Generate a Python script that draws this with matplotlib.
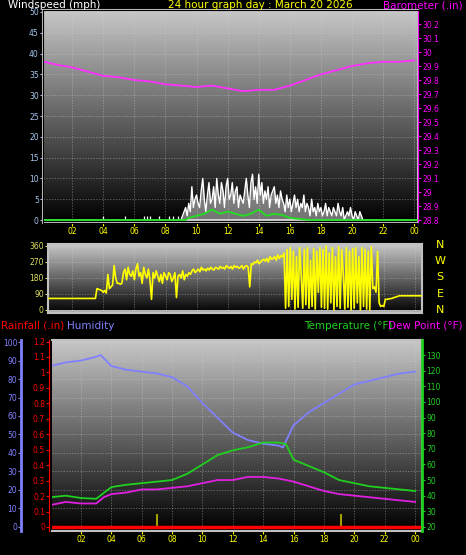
import numpy as np
import matplotlib
matplotlib.use("Agg")
import matplotlib.pyplot as plt

W, H = 466, 555
# ---------------- data ----------------
baro_t = [0.2,1,2,3,4,5,6,7,8,9,10,11,12,13,14,15,16,17,18,19,20,21,22,23,24]
baro_v = [29.93,29.91,29.89,29.86,29.83,29.82,29.80,29.79,29.77,29.76,29.75,29.76,29.74,29.72,29.73,29.73,29.76,29.80,29.84,29.87,29.90,29.92,29.93,29.93,29.94]

gust_start, gust_step = 9.0, 0.1
gust_v = [0,1,2,3,1,4,2,8,3,5,
          6,4,3,7,10,5,2,6,9,4,
          5,8,3,10,6,4,9,7,3,8,
          10,5,6,9,4,7,8,3,6,5,
          4,7,10,6,3,9,11,5,8,4,
          11,6,9,4,7,5,8,3,6,7,
          8,4,6,3,7,5,4,2,6,3,
          5,2,4,6,3,5,2,4,3,6,
          2,4,3,1,5,2,3,1,4,2,
          3,1,2,4,1,3,2,1,3,2,
          1,4,2,1,3,0,1,2,1,3,
          1,0,2,1,0,2,1,0,0,0,0]
spike_t = [4.0,5.4,6.6,6.8,7.0,7.6,8.2,8.5,8.8]
spike_v = [1,1,1,1,1,1,1,1,1]
avg_t = [0.1,9.3,9.5,10,10.5,11,11.5,12,12.5,13,13.5,14,14.5,15,15.5,16,16.5,17,17.5,24.3]
avg_v = [0,0,0.5,1,1.5,2.5,1.5,2,1.5,1,1.5,2.5,1,1.5,1.2,0.5,0.3,0.1,0,0]

dir_pre_t = [0.45,3.5,3.6,3.9]
dir_pre_v = [65,65,120,110]
dir_start, dir_step = 4.0, 0.1
dir_v = [100,110,95,200,120,130,140,250,180,150,
         150,145,150,210,230,170,240,200,190,220,
         170,230,260,190,210,150,240,200,180,230,
         170,60,210,180,220,190,160,200,150,210,
         190,170,210,200,160,180,210,70,190,200,
         180,220,170,200,190,210,200,220,230,210,
         220,230,215,240,225,230,220,235,225,240,
         230,225,240,235,230,245,235,240,230,250,
         240,235,245,230,250,240,245,235,240,250,
         230,245,250,240,130,260,255,270,265,280,
         260,270,280,285,275,290,270,300,285,290,
         300,280,310,290,305,300,320,
         10,340,20,350,60,330,5,300,15,350,200,10,340,30,350,10,280,20,345,5,
         330,100,350,15,340,10,360,5,320,40,350,0,300,20,355,10,340,200,5,350,
         15,330,0,345,10,350,40,300,0,350,20,340,5,330,0,355,120,
         130,100,330,40,20,25,20,60,60,62]
dir_post_t = [22.5,23.0,24.5]
dir_post_v = [65,80,80]

temp_t = [0,1,2,3,4,5,6,7,8,9,10,11,12,13,14,15,15.5,16,17,18,19,20,21,22,23,24]
temp_v = [39,40,38.5,38,45.5,47,48,49,50,54,60,66,69,71,74,74,73,63,59,55,50,48,46,45,44,43]
dew_t = [0,1,2,3,3.5,4,5,6,7,8,9,10,11,12,13,14,15,16,17,18,19,20,21,22,23,24]
dew_v = [34,36,35,35,39,41,42,44,44,45,46,48,50,50,52,52,51,49,46,43,41,40,39,38,37,36]
hum_t = [0,1,2,3,3.3,4,5,6,7,8,9,10,11,12,13,14,15,15.3,16,17,18,19,20,21,22,23,24]
hum_v = [87,89,90,92,93,87,85,84,83,81,76,67,59,51,47,45,44,43,55,62,67,72,77,79,81,83,84]
rain_t = [0.09,24.46]
rain_v = [0,0]
rainmark_t = [7.0,19.1]
rainmark_v = [0.085,0.085]

hour_ticks = [2,4,6,8,10,12,14,16,18,20,22,24]
hour_labels = ["02","04","06","08","10","12","14","16","18","20","22","00"]

# ---------------- figure ----------------
fig = plt.figure(figsize=(W/100, H/100), dpi=100, facecolor="black")

def pa(l, t, r, b):
    return [l/W, 1-b/H, (r-l)/W, (b-t)/H]

grad = np.linspace(0.78, 0.0, 256).reshape(-1, 1)

def style(ax):
    ax.set_facecolor("black")
    ax.imshow(grad, cmap="gray", vmin=0, vmax=1, aspect="auto",
              extent=[0, 1, 0, 1], transform=ax.transAxes, zorder=0)
    ax.grid(True, color="#d0d0d0", lw=0.5, ls=(0, (2, 2)), alpha=0.5)
    for s in ax.spines.values():
        s.set_color("#c0c0c0")
        s.set_linewidth(1.5)
    ax.set_xticks(hour_ticks)
    ax.tick_params(length=2, labelsize=5.5, pad=1)

# top panel
ax1 = fig.add_axes(pa(43, 10, 418, 223))
style(ax1)
ax1.set_xlim(0.13, 24.24)
ax1.set_ylim(-0.72, 50.48)
ax1.set_yticks(range(0, 51, 5))
ax1.tick_params(axis="y", colors="#a8c8f0")
ax1.tick_params(axis="x", colors="yellow", labelcolor="yellow")
ax1.set_xticklabels(hour_labels)
ax1.axhline(0, color="#d0d0d0", lw=1.2, zorder=2)
gt = gust_start + gust_step*np.arange(len(gust_v))
ax1.fill_between(gt, 0, gust_v, color="white", alpha=0.45, lw=0, zorder=3)
ax1.plot(gt, gust_v, color="white", lw=1.0, zorder=3)
ax1.vlines(spike_t, 0, spike_v, color="white", lw=0.9, zorder=3)
ax1.plot(avg_t, avg_v, color="#20e020", lw=1.3, zorder=4)
ax1b = ax1.twinx()
ax1b.set_ylim(28.779, 30.3)
ax1b.set_yticks(np.round(np.arange(28.8, 30.21, 0.1), 1))
ax1b.set_yticklabels([f"{v:g}" for v in np.round(np.arange(28.8, 30.21, 0.1), 1)])
ax1b.tick_params(colors="magenta", length=2, labelsize=5.5, pad=1)
ax1b.spines["right"].set_color("magenta")
ax1b.plot(baro_t, baro_v, color="#ff30ff", lw=1.3)

# middle panel
ax2 = fig.add_axes(pa(48, 244, 422, 313))
style(ax2)
ax2.set_xlim(0.46, 24.45)
ax2.set_ylim(-16.9, 371)
ax2.set_yticks([0, 90, 180, 270, 360])
ax2.tick_params(axis="y", colors="#e0e060")
ax2.tick_params(axis="x", bottom=False, labelbottom=False)
ax2.axhline(-8, color="#d0d0d0", lw=1.2)
dt = np.concatenate([dir_pre_t, dir_start + dir_step*np.arange(len(dir_v)), dir_post_t])
dv = np.concatenate([dir_pre_v, dir_v, dir_post_v])
ax2.plot(dt, dv, color="yellow", lw=1.2, zorder=3)
for lab, y in zip(["N", "W", "S", "E", "N"], [245, 261, 277, 294, 310]):
    fig.text(440/W, 1-y/H, lab, color="yellow", fontsize=8, ha="center", va="center")

# bottom panel
ax3 = fig.add_axes(pa(52, 340, 422, 531))
style(ax3)
ax3.set_xlim(0.09, 24.46)
ax3.set_ylim(-2.2, 101.1)
ax3.set_yticks(range(0, 101, 10))
ax3.set_xticklabels(hour_labels)
ax3.tick_params(axis="x", colors="yellow")
ax3.tick_params(axis="y", colors="#8080ff")
ax3.spines["left"].set_position(("outward", 22))
ax3.spines["left"].set_color("#8080ff")
ax3.spines["left"].set_linewidth(2)
ax3.plot(hum_t, hum_v, color="#8080ff", lw=1.3, zorder=3)

ax3r = ax3.twinx()
ax3r.set_ylim(-0.026, 1.21)
ax3r.yaxis.set_ticks_position("left")
ax3r.set_yticks(np.round(np.arange(0, 1.21, 0.1), 1))
ax3r.set_yticklabels([f"{v:g}" for v in np.round(np.arange(0, 1.21, 0.1), 1)])
ax3r.tick_params(colors="red", length=2, labelsize=5.5, pad=1)
ax3r.spines["left"].set_position(("outward", 2))
ax3r.spines["left"].set_color("red")
ax3r.spines["left"].set_linestyle((0, (2, 1)))
for s in ["right", "top", "bottom"]:
    ax3r.spines[s].set_visible(False)
ax3r.plot(rain_t, rain_v, color="red", lw=2.5, zorder=5)
ax3r.vlines(rainmark_t, 0, rainmark_v, color="#a0a000", lw=1.5, zorder=4)

ax3t = ax3.twinx()
ax3t.set_ylim(17.4, 139.6)
ax3t.set_yticks(range(20, 131, 10))
ax3t.tick_params(colors="#20d020", length=2, labelsize=5.5, pad=1)
ax3t.spines["right"].set_color("#20d020")
ax3t.spines["right"].set_linewidth(2)
for s in ["left", "top", "bottom"]:
    ax3t.spines[s].set_visible(False)
ax3t.plot(temp_t, temp_v, color="#20d020", lw=1.3)
ax3t.plot(dew_t, dew_v, color="#e020e0", lw=1.3)

# titles
fs = 7.5
fig.text(8/W, 1-5/H, "Windspeed (mph)", color="white", fontsize=fs, va="center")
fig.text(260/W, 1-5/H, "24 hour graph day : March 20 2026", color="yellow", fontsize=fs, ha="center", va="center")
fig.text(463/W, 1-5/H, "Barometer (.in)", color="magenta", fontsize=fs, ha="right", va="center")
fig.text(1/W, 1-326/H, "Rainfall (.in)", color="red", fontsize=fs, va="center")
fig.text(67/W, 1-326/H, "Humidity", color="#8080ff", fontsize=fs, va="center")
fig.text(392/W, 1-326/H, "Temperature (°F)", color="#20d020", fontsize=fs, ha="right", va="center")
fig.text(463/W, 1-326/H, "Dew Point (°F)", color="magenta", fontsize=fs, ha="right", va="center")

fig.savefig("out.png", dpi=100, facecolor="black")
